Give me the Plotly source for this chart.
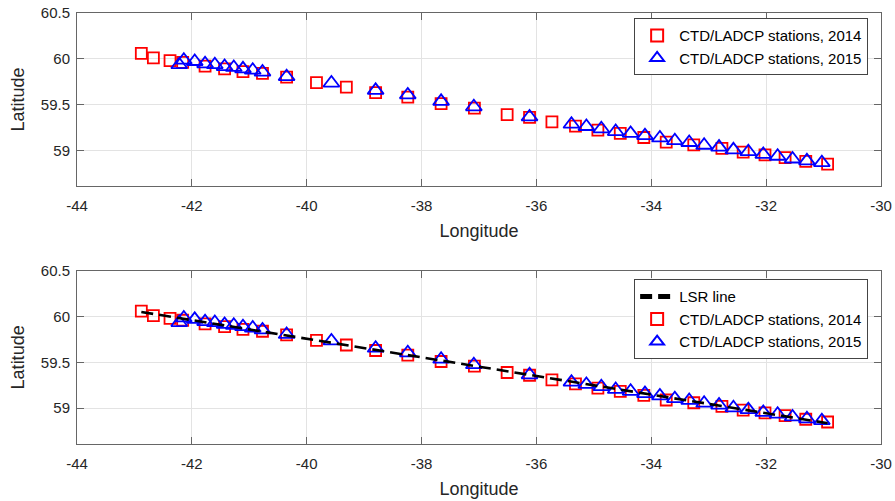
import numpy as np
import plotly.graph_objects as go

# ---- data ----
lon_2014 = [-42.88, -42.67, -42.38, -42.16, -41.77, -41.43, -41.11, -40.77, -40.35,
            -39.83, -39.31, -38.80, -38.24, -37.66, -37.08, -36.51, -36.12, -35.73,
            -35.32, -34.93, -34.54, -34.13, -33.74, -33.26, -32.77, -32.40, -32.02,
            -31.67, -31.31, -30.93]
lat_2014 = [60.06, 60.01, 59.98, 59.96, 59.92, 59.89, 59.86, 59.84, 59.80,
            59.74, 59.69, 59.63, 59.58, 59.51, 59.46, 59.39, 59.36, 59.31,
            59.265, 59.22, 59.185, 59.14, 59.09, 59.06, 59.02, 58.98, 58.95,
            58.92, 58.88, 58.85]

lon_2015 = [-42.22, -42.14, -41.95, -41.77, -41.60, -41.43, -41.27, -41.11, -40.94,
            -40.77, -40.35, -39.57, -38.80, -38.24, -37.66, -37.09, -36.12,
            -35.39, -35.13, -34.87, -34.62, -34.36, -34.11, -33.85, -33.59, -33.34,
            -33.08, -32.82, -32.57, -32.31, -32.05, -31.80, -31.54, -31.29, -31.03]
lat_2015 = [59.935, 59.985, 59.97, 59.945, 59.935, 59.915, 59.905, 59.89, 59.875,
            59.855, 59.805, 59.735, 59.655, 59.605, 59.535, 59.475, 59.365,
            59.285, 59.26, 59.235, 59.205, 59.185, 59.16, 59.135, 59.105, 59.085,
            59.055, 59.035, 59.005, 58.985, 58.955, 58.935, 58.905, 58.885, 58.865]

x_ticks = [-44, -42, -40, -38, -36, -34, -32, -30]
y_ticks = [59, 59.5, 60, 60.5]
x_range = [-44, -30]
y_range = [58.61, 60.5]

label_2014 = "CTD/LADCP stations, 2014"
label_2015 = "CTD/LADCP stations, 2015"
label_lsr = "LSR line"

# least-squares regression line through all stations
all_lon = np.array(lon_2014 + lon_2015)
all_lat = np.array(lat_2014 + lat_2015)
coef = np.polyfit(all_lon, all_lat, 1)
lsr_lon = np.array([min(lon_2014), max(lon_2014)])
lsr_lat = np.polyval(coef, lsr_lon)

FONT = "Liberation Sans, Arial, Helvetica, sans-serif"
sq_style = dict(symbol="square-open", size=11, color="#ff0000",
                line=dict(color="#ff0000", width=1.8))
tri_style = dict(symbol="triangle-up-open", size=14, color="#0000ff",
                 line=dict(color="#0000ff", width=1.8))

fig = go.Figure()

# top panel
fig.add_trace(go.Scatter(x=lon_2014, y=lat_2014, mode="markers", marker=sq_style,
                         name=label_2014, xaxis="x", yaxis="y", legend="legend"))
fig.add_trace(go.Scatter(x=lon_2015, y=lat_2015, mode="markers", marker=tri_style,
                         name=label_2015, xaxis="x", yaxis="y", legend="legend"))

# bottom panel
fig.add_trace(go.Scatter(x=lon_2014, y=lat_2014, mode="markers", marker=sq_style,
                         name=label_2014, xaxis="x2", yaxis="y2", legend="legend2",
                         legendrank=2))
fig.add_trace(go.Scatter(x=lon_2015, y=lat_2015, mode="markers", marker=tri_style,
                         name=label_2015, xaxis="x2", yaxis="y2", legend="legend2",
                         legendrank=3))
fig.add_trace(go.Scatter(x=lsr_lon, y=lsr_lat, mode="lines",
                         line=dict(color="black", width=2.6, dash="12px,6px"),
                         name=label_lsr, xaxis="x2", yaxis="y2", legend="legend2",
                         legendrank=1))

axis_common = dict(
    showgrid=True, gridcolor="#e3e3e3", gridwidth=1,
    showline=True, linecolor="#666666", linewidth=1, mirror="ticks",
    ticks="inside", ticklen=7, tickcolor="#666666", tickwidth=1,
    zeroline=False, automargin=False,
    tickfont=dict(family=FONT, size=15, color="#262626"),
)

xa = dict(axis_common, range=x_range, tickmode="array", tickvals=x_ticks,
          ticktext=[str(v) for v in x_ticks], ticklabelstandoff=6,
          title=dict(text="Longitude", font=dict(family=FONT, size=18, color="#262626"),
                     standoff=11))
ya = dict(axis_common, range=y_range, tickmode="array", tickvals=y_ticks,
          ticktext=["59", "59.5", "60", "60.5"], ticklabelstandoff=3,
          title=dict(text="Latitude", font=dict(family=FONT, size=18, color="#262626"),
                     standoff=11))

legend_common = dict(
    bgcolor="white", bordercolor="#444444", borderwidth=1,
    font=dict(family=FONT, size=15, color="black"),
    xanchor="right", yanchor="top", x=0.984,
    itemsizing="constant", itemwidth=34, tracegroupgap=0,
)

fig.update_layout(
    width=895, height=501,
    margin=dict(l=77, r=14, t=13, b=57),
    paper_bgcolor="white", plot_bgcolor="white",
    showlegend=True,
    xaxis=dict(xa, domain=[0, 1], anchor="y"),
    yaxis=dict(ya, domain=[0.5986, 1.0], anchor="x"),
    xaxis2=dict(xa, domain=[0, 1], anchor="y2"),
    yaxis2=dict(ya, domain=[0.0, 0.402], anchor="x2"),
    legend=dict(legend_common, y=0.988),
    legend2=dict(legend_common, y=0.382),
)

fig.write_html("out.html")
